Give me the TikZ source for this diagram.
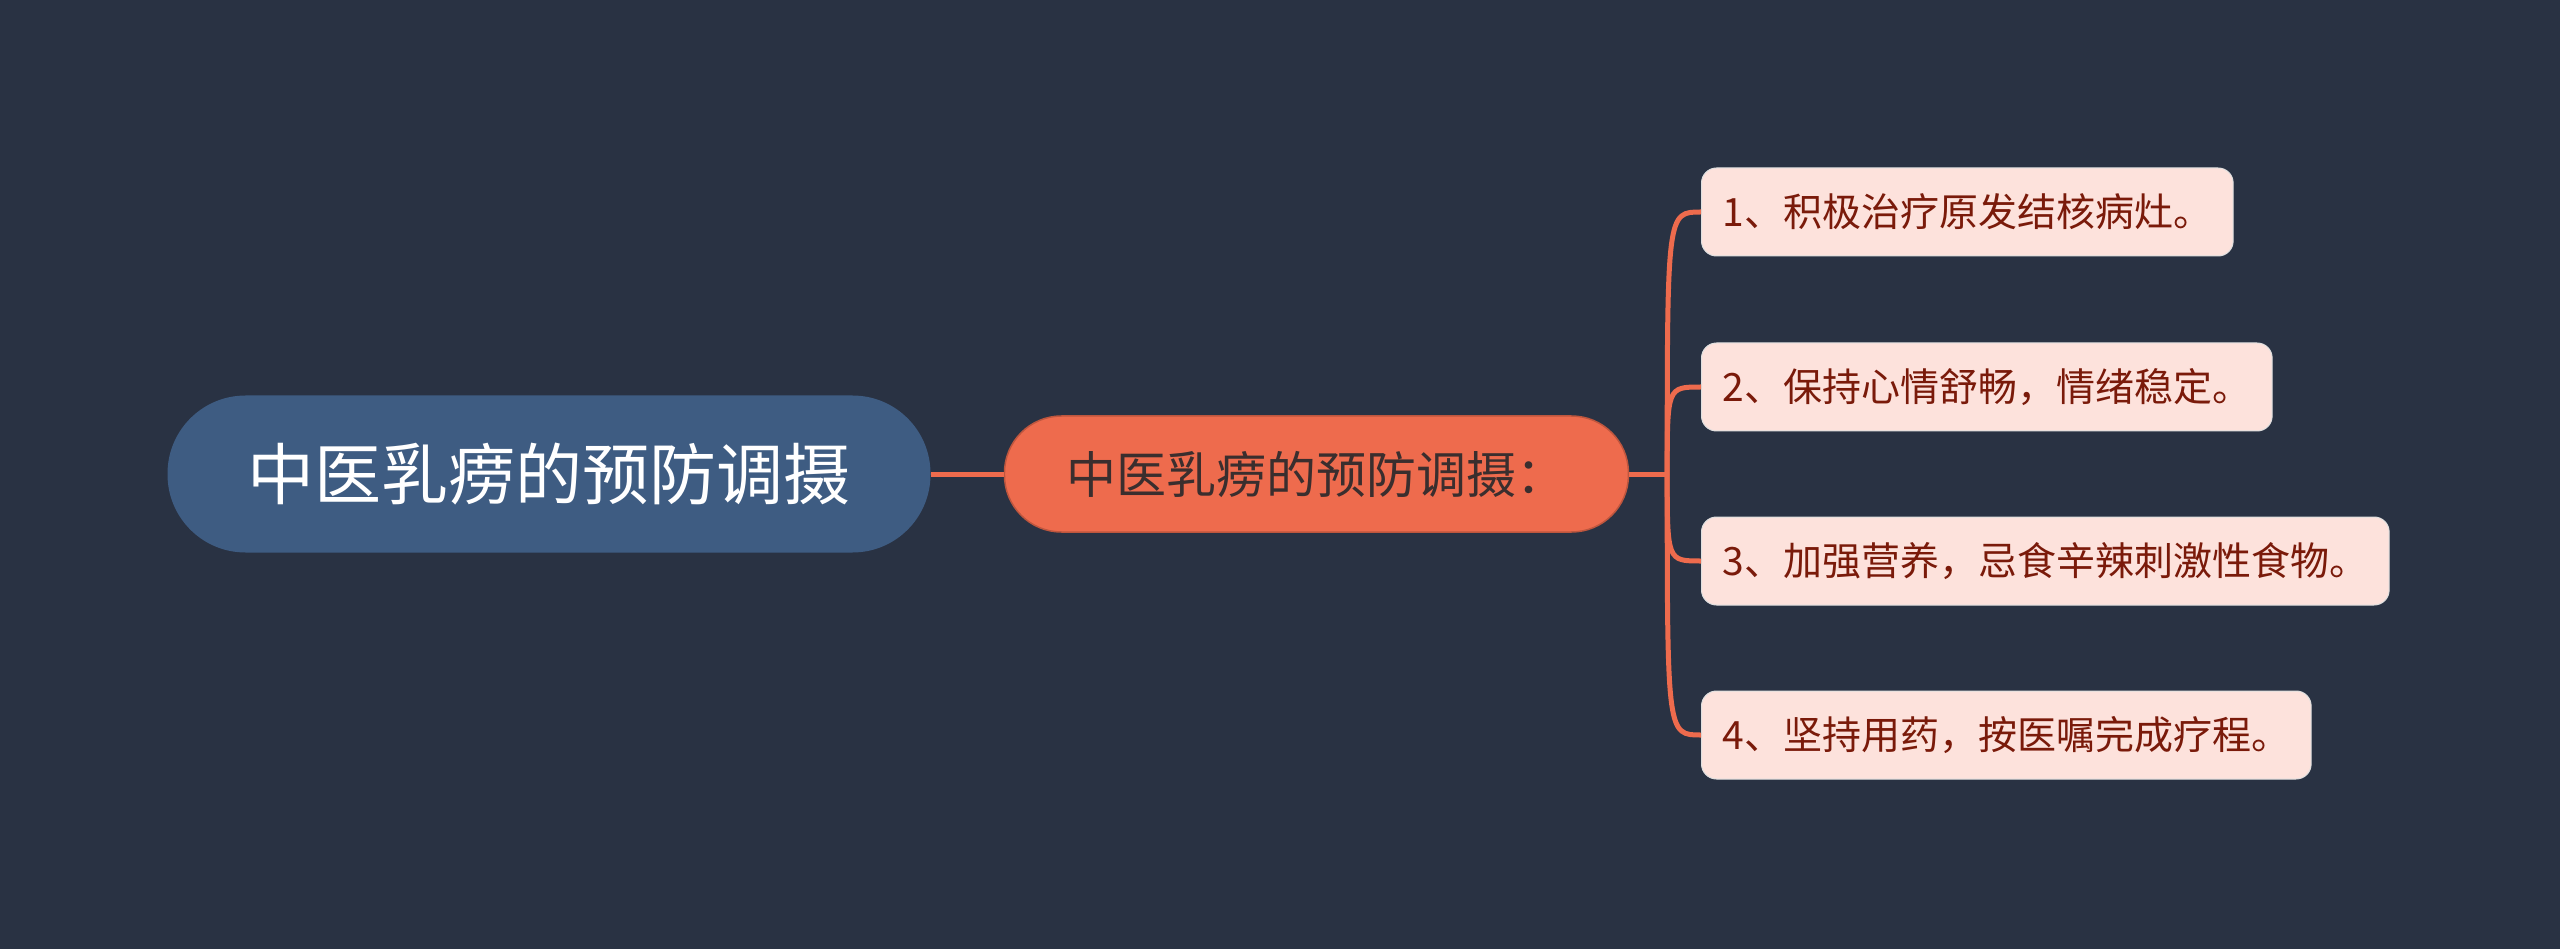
\documentclass[tikz,border=0pt]{standalone}
\usepackage{fontspec}
\usepackage{xcolor}
\usepackage{tikz}
\usetikzlibrary{positioning, calc}
\newfontfamily\cjk{Noto Sans CJK SC}
\definecolor{bgnavy}{HTML}{293243}
\definecolor{rootblue}{HTML}{3E5C82}
\definecolor{midorange}{HTML}{EE6B4D}
\definecolor{midtext}{HTML}{3A2E2E}
\definecolor{leafpink}{HTML}{FDE2DC}
\definecolor{leaftext}{HTML}{7A1A0A}

\begin{document}
\begin{tikzpicture}[
  x=1pt, y=-1pt,
  node distance=73pt,
  rootbox/.style={rectangle, rounded corners=78pt, fill=rootblue, text=white,
                  minimum width=763pt, minimum height=157pt,
                  font=\cjk\fontsize{67}{80}\selectfont},
  midbox/.style={rectangle, rounded corners=57pt, fill=midorange, draw=midorange!80!black,
                 line width=1.5pt, text=midtext, minimum width=624pt, minimum height=116pt,
                 font=\cjk\fontsize{50}{60}\selectfont},
  leafbox/.style={rectangle, rounded corners=15pt, fill=leafpink, draw=white!75!gray,
                  line width=1pt, text=leaftext, minimum height=88pt, inner xsep=21pt,
                  anchor=west, font=\cjk\fontsize{39}{47}\selectfont},
  link/.style={draw=midorange, line width=5pt}
]
  \fill[bgnavy] (0,0) rectangle (2560,949);
  \useasboundingbox (0,0) rectangle (2560,949);

  \node[rootbox] (root) at (549,474) {中医乳痨的预防调摄};
  \node[midbox, right=73pt of root] (mid) {中医乳痨的预防调摄：};
  \coordinate[right=38pt of mid] (hub);

  \node[leafbox] (l1) at (1701,212) {1、积极治疗原发结核病灶。};
  \node[leafbox] (l2) at (1701,387) {2、保持心情舒畅，情绪稳定。};
  \node[leafbox] (l3) at (1701,561) {3、加强营养，忌食辛辣刺激性食物。};
  \node[leafbox] (l4) at (1701,735) {4、坚持用药，按医嘱完成疗程。};

  \draw[link] (root) -- (mid);
  \draw[link] (mid) -- (hub);
  \foreach \n in {l1,l2,l3,l4}
    \draw[link] (hub) .. controls (hub |- \n.west) .. (\n.west);
\end{tikzpicture}
\end{document}
